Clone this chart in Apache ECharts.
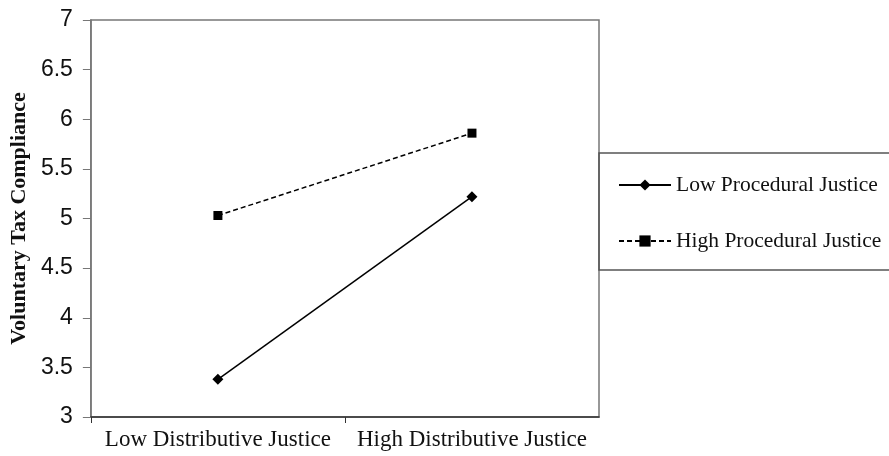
<!DOCTYPE html>
<html><head><meta charset="utf-8">
<script src="https://cdn.jsdelivr.net/npm/echarts@6/dist/echarts.min.js"></script>
<style>html,body{margin:0;padding:0;background:#fff}#c{width:889px;height:456px}</style>
</head><body><div id="c"></div>
<script>
const categories = ['Low Distributive Justice', 'High Distributive Justice'];
const lowProcedural = [3.38, 5.22];
const highProcedural = [5.03, 5.86];
const seriesNames = ['Low Procedural Justice', 'High Procedural Justice'];
const yTicks = { min: 3, max: 7, interval: 0.5 };

const chart = echarts.init(document.getElementById('c'));
chart.setOption({
  animation: false,
  grid: { left: 90, right: 290, top: 20, bottom: 39, show: true, borderColor: '#777', borderWidth: 1.5 },
  xAxis: {
    type: 'category', data: categories, boundaryGap: true,
    axisLine: { lineStyle: { color: '#333', width: 1.5 } },
    axisTick: { show: true, interval: 0, length: 6, lineStyle: { color: '#333' } },
    axisLabel: { interval: 0, fontFamily: 'Liberation Serif', fontSize: 23, color: '#111', margin: 11 }
  },
  yAxis: {
    type: 'value', min: yTicks.min, max: yTicks.max, interval: yTicks.interval,
    name: 'Voluntary Tax Compliance', nameLocation: 'middle', nameGap: 55,
    nameTextStyle: { fontFamily: 'Liberation Serif', fontWeight: 'bold', fontSize: 22, color: '#111' },
    axisLine: { show: true, lineStyle: { color: '#777', width: 1.5 } },
    axisTick: { show: true, length: 8, lineStyle: { color: '#777' } },
    splitLine: { show: false },
    axisLabel: { fontFamily: 'Liberation Sans', fontSize: 23, color: '#111', margin: 18,
      formatter: v => String(v) }
  },
  legend: {
    orient: 'vertical', left: 599, top: 153,
    padding: [21, 60, 18, 19], itemGap: 34, itemWidth: 52, itemHeight: 14,
    borderColor: '#555', borderWidth: 1.5,
    textStyle: { fontFamily: 'Liberation Serif', fontSize: 21.5, color: '#111' },
    data: seriesNames
  },
  series: [
    { name: seriesNames[0], type: 'line', data: lowProcedural, symbol: 'diamond', symbolSize: 11,
      itemStyle: { color: '#000' }, lineStyle: { color: '#000', width: 1.5, type: 'solid' } },
    { name: seriesNames[1], type: 'line', data: highProcedural, symbol: 'rect', symbolSize: 9,
      itemStyle: { color: '#000' }, lineStyle: { color: '#000', width: 1.5, type: [5, 3] } }
  ]
});
</script></body></html>
